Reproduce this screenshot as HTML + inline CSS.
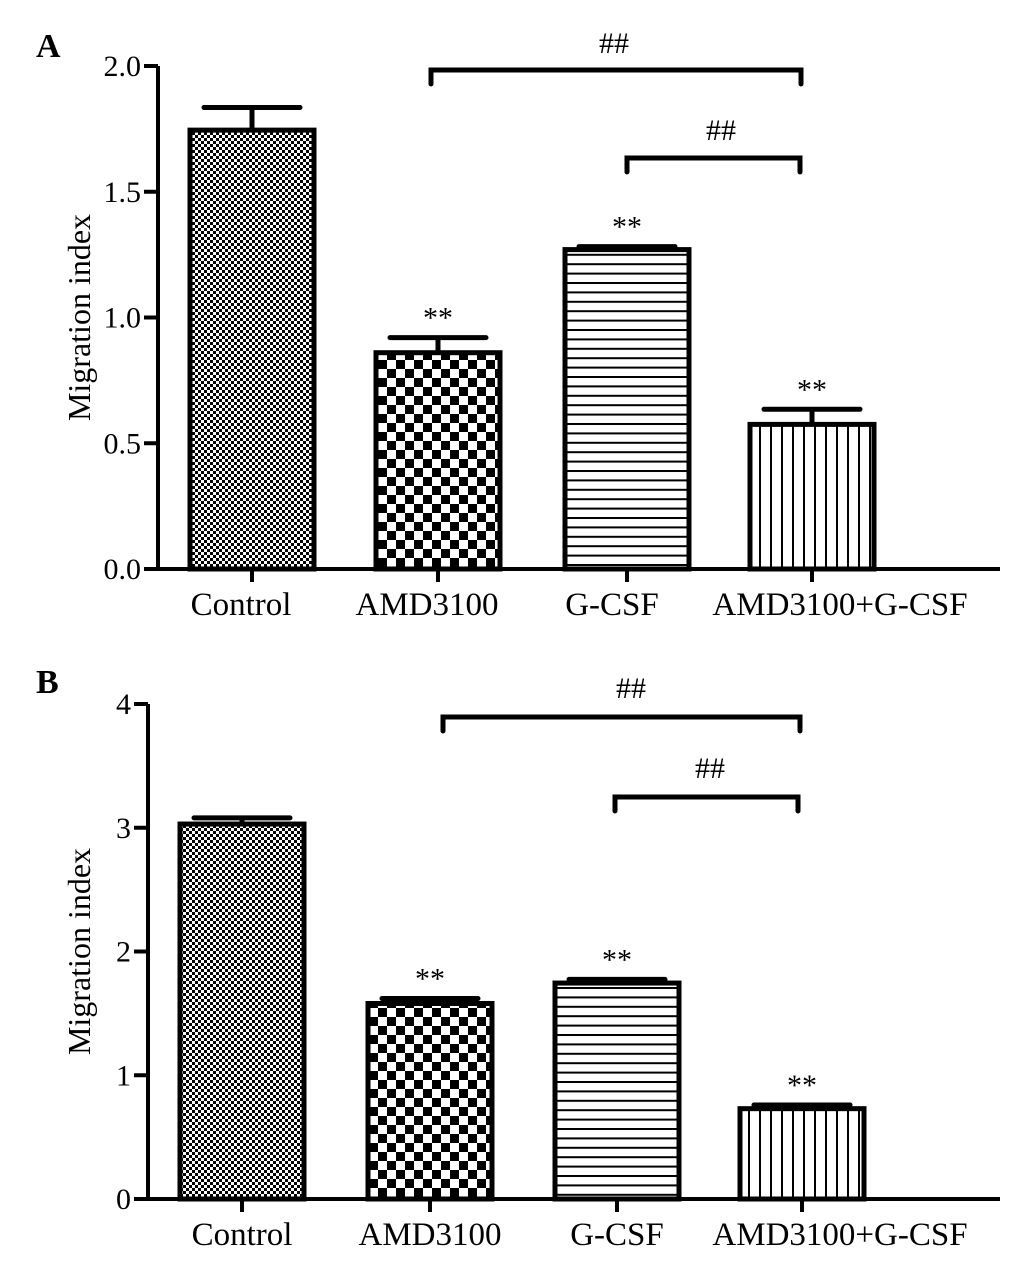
<!DOCTYPE html>
<html><head><meta charset="utf-8"><style>
html,body{margin:0;padding:0;background:#fff;}
svg text{font-family:"Liberation Serif",serif;fill:#000;}
</style></head><body>
<svg id="fig" width="1033" height="1257" viewBox="0 0 1033 1257" xmlns="http://www.w3.org/2000/svg">
<defs>
<pattern id="pCtrl" width="6" height="6" patternUnits="userSpaceOnUse"><rect width="6" height="6" fill="#fff"/><rect width="3" height="3" fill="#000"/><rect x="3" y="3" width="3" height="3" fill="#000"/></pattern>
<pattern id="pAmd" width="18" height="18" patternUnits="userSpaceOnUse"><rect width="18" height="18" fill="#fff"/><rect width="9" height="9" fill="#000"/><rect x="9" y="9" width="9" height="9" fill="#000"/></pattern>
<pattern id="pH" width="10" height="9.4" patternUnits="userSpaceOnUse"><rect width="10" height="9.4" fill="#fff"/><rect y="0" width="10" height="2" fill="#000"/></pattern>
<pattern id="pV" width="11" height="10" patternUnits="userSpaceOnUse"><rect width="11" height="10" fill="#fff"/><rect x="0" width="2" height="10" fill="#000"/></pattern>
</defs>
</svg>
<script>
const categories = ["Control","AMD3100","G-CSF","AMD3100+G-CSF"];
const valuesA = [1.745, 0.86, 1.27, 0.575];
const errorsA = [0.09, 0.06, 0.012, 0.06];
const valuesB = [3.03, 1.58, 1.745, 0.73];
const errorsB = [0.05, 0.04, 0.03, 0.03];
const ticksA = ["0.0","0.5","1.0","1.5","2.0"];
const tickValsA = [0, 0.5, 1.0, 1.5, 2.0];
const ticksB = ["0","1","2","3","4"];
const tickValsB = [0, 1, 2, 3, 4];
const starsA = ["", "**", "**", "**"];
const starsB = ["", "**", "**", "**"];
const fills = ["url(#pCtrl)","url(#pAmd)","url(#pH)","url(#pV)"];

const NS = "http://www.w3.org/2000/svg";
const svg = document.getElementById('fig');
function mk(tag, attrs, parent){ const e=document.createElementNS(NS,tag); for(const k in attrs) e.setAttribute(k,attrs[k]); (parent||svg).appendChild(e); return e; }

function panel(cfg){
  const g = mk('g',{});
  
  
  const y = v => cfg.y0 - (v/cfg.ymax)*(cfg.y0-cfg.yTop);
  const lt = mk('text',{x:cfg.letterX,y:cfg.letterY,'font-size':34,'font-weight':'bold'},g);
  lt.textContent = cfg.letter;
  
  
  cfg.values.forEach((v,i)=>{
    const x0 = cfg.barX[i], w = cfg.barW;
    const cx = x0 + w/2;
    const ey = y(v + cfg.errors[i]);
    const el = mk('path',{d:`M${cx},${y(v)} V${ey} M${cx-48},${ey} H${cx+48}`,stroke:'#000','stroke-width':5,'stroke-linecap':'round',fill:'none'},g);
    
    
    const r = mk('rect',{x:x0,y:y(v),width:w,height:cfg.y0-y(v),fill:cfg.fills[i],stroke:'#000','stroke-width':5},g);
    
    
    if(cfg.stars[i]){
      const s = mk('text',{x:cx,y:ey-10,'font-size':30,'text-anchor':'middle'},g);
      s.textContent = cfg.stars[i];
      
      
    }
    const tk = mk('line',{x1:cx,x2:cx,y1:cfg.y0,y2:cfg.y0+13,stroke:'#000','stroke-width':4},g);
    
    
    const lb = mk('text',{x:cx+cfg.labelShift[i],y:cfg.y0+46,'font-size':33,'text-anchor':'middle'},g);
    lb.textContent = categories[i];
    
    
  });
  const ax = mk('path',{d:`M${cfg.axX},${cfg.yTop} V${cfg.y0} H${cfg.axEnd}`,stroke:'#000','stroke-width':4,fill:'none'},g);
  
  
  cfg.tickVals.forEach((tv,i)=>{
    const t = mk('line',{x1:cfg.axX-14,x2:cfg.axX,y1:y(tv),y2:y(tv),stroke:'#000','stroke-width':4},g);
    
    
    const tl = mk('text',{x:cfg.axX-17,y:y(tv)+10,'font-size':30,'text-anchor':'end'},g);
    tl.textContent = cfg.ticks[i];
    
    
  });
  const yl = mk('text',{x:0,y:0,'font-size':32,'text-anchor':'middle',transform:`translate(${cfg.ylabX},${(cfg.y0+cfg.yTop)/2}) rotate(-90)`},g);
  yl.textContent = 'Migration index';
  
  
  cfg.brackets.forEach(b=>{
    const p = mk('path',{d:`M${b.x1},${b.y+14} V${b.y} H${b.x2} V${b.y+14}`,stroke:'#000','stroke-width':5,fill:'none','stroke-linecap':'round'},g);
    
    
    const t = mk('text',{x:b.tx,y:b.ty,'font-size':30,'text-anchor':'middle'},g);
    t.textContent = '##';
    
    
  });
}

panel({letter:'A',letterX:36,letterY:57,values:valuesA,errors:errorsA,stars:starsA,fills:fills,
  y0:569,yTop:66,ymax:2.0,axX:158,axEnd:1000,barX:[190,376,565,750],barW:124,labelShift:[-11,-11,-15,28],
  ticks:ticksA,tickVals:tickValsA,ylabX:90,
  brackets:[{x1:431,x2:801,y:70,tx:614,ty:53},{x1:627,x2:800,y:158,tx:721,ty:140}]});
panel({letter:'B',letterX:36,letterY:693,values:valuesB,errors:errorsB,stars:starsB,fills:fills,
  y0:1199,yTop:704,ymax:4,axX:148,axEnd:1000,barX:[180,368,555,740],barW:124,labelShift:[0,0,0,38],
  ticks:ticksB,tickVals:tickValsB,ylabX:90,
  brackets:[{x1:443,x2:800,y:717,tx:631,ty:698},{x1:615,x2:798,y:797,tx:710,ty:778}]});
</script>
</body></html>
